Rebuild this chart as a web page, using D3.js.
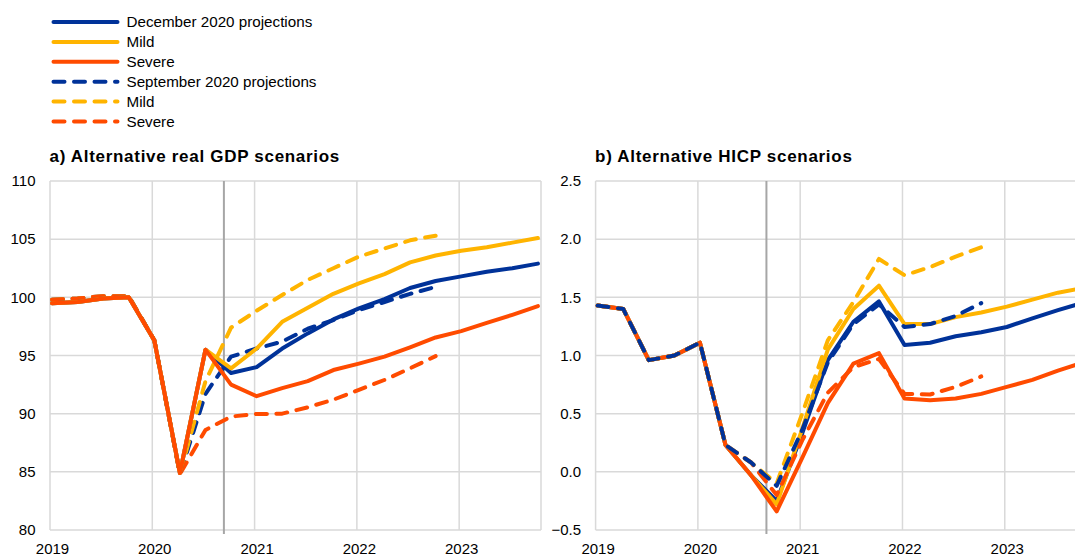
<!DOCTYPE html>
<html>
<head>
<meta charset="utf-8">
<script src="https://cdn.jsdelivr.net/npm/d3@7"></script>
<style>
  body { margin: 0; background: #fff; }
  svg { display: block; font-family: "Liberation Sans", Arial, sans-serif; }
  .grid { stroke: #d9d9d9; stroke-width: 1.5; }
  .cutoff { stroke: #a6a6a6; stroke-width: 2; }
  .tick_label { font-size: 15px; fill: #000; }
  .legend_label { font-size: 15.2px; fill: #000; }
  .panel_title { font-size: 17px; font-weight: bold; fill: #000; letter-spacing: 0.7px; }
</style>
</head>
<body>
<svg width="1075" height="556"></svg>
<script>
/** Chart data **/

// quarterly observations, December vintage runs to 2023Q4, September to 2022Q4
var quarters = ["2019Q1", "2019Q2", "2019Q3", "2019Q4", "2020Q1", "2020Q2", "2020Q3", "2020Q4",
                "2021Q1", "2021Q2", "2021Q3", "2021Q4", "2022Q1", "2022Q2", "2022Q3", "2022Q4",
                "2023Q1", "2023Q2", "2023Q3", "2023Q4"];
var year_ticks = [2019, 2020, 2021, 2022, 2023];

var gdp_ticks = [80, 85, 90, 95, 100, 105, 110];
var hicp_ticks = [-0.5, 0.0, 0.5, 1.0, 1.5, 2.0, 2.5];

// a) real GDP, index
var gdp_dec_base   = [99.5, 99.6, 99.9, 100.0, 96.3, 84.9, 95.5, 93.5, 94.0, 95.6, 96.9, 98.1, 99.05, 99.85, 100.8, 101.4, 101.8, 102.2, 102.5, 102.9];
var gdp_dec_mild   = [99.5, 99.6, 99.9, 100.0, 96.3, 84.9, 95.5, 93.9, 95.6, 97.9, 99.1, 100.3, 101.2, 102.0, 103.0, 103.6, 104.0, 104.3, 104.7, 105.1];
var gdp_dec_severe = [99.5, 99.6, 99.9, 100.0, 96.3, 84.9, 95.5, 92.5, 91.5, 92.2, 92.8, 93.75, 94.3, 94.9, 95.7, 96.55, 97.1, 97.8, 98.5, 99.25];
var gdp_sep_base   = [99.8, 99.9, 100.1, 100.1, 96.3, 84.8, 91.7, 94.9, 95.6, 96.2, 97.3, 98.05, 98.9, 99.6, 100.3, 100.9];
var gdp_sep_mild   = [99.8, 99.9, 100.1, 100.1, 96.3, 84.8, 92.8, 97.4, 98.85, 100.2, 101.5, 102.5, 103.5, 104.2, 104.9, 105.3];
var gdp_sep_severe = [99.8, 99.9, 100.1, 100.1, 96.3, 84.8, 88.6, 89.75, 89.97, 90.0, 90.55, 91.2, 92.05, 92.9, 93.9, 94.95];

// b) HICP, annual % change
var hicp_dec_base   = [1.43, 1.40, 0.96, 1.00, 1.11, 0.23, -0.03, -0.25, 0.33, 0.96, 1.29, 1.465, 1.09, 1.11, 1.165, 1.20, 1.245, 1.32, 1.39, 1.455];
var hicp_dec_mild   = [1.43, 1.40, 0.96, 1.00, 1.11, 0.23, -0.03, -0.28, 0.37, 1.05, 1.40, 1.60, 1.27, 1.27, 1.33, 1.37, 1.42, 1.48, 1.54, 1.58];
var hicp_dec_severe = [1.43, 1.40, 0.96, 1.00, 1.11, 0.23, -0.03, -0.34, 0.12, 0.59, 0.93, 1.02, 0.63, 0.615, 0.63, 0.67, 0.73, 0.79, 0.87, 0.94];
var hicp_sep_base   = [1.43, 1.40, 0.96, 1.00, 1.11, 0.23, 0.08, -0.12, 0.36, 0.94, 1.27, 1.44, 1.245, 1.27, 1.34, 1.45];
var hicp_sep_mild   = [1.43, 1.40, 0.96, 1.00, 1.11, 0.23, 0.08, -0.10, 0.50, 1.13, 1.46, 1.83, 1.69, 1.76, 1.85, 1.93];
var hicp_sep_severe = [1.43, 1.40, 0.96, 1.00, 1.11, 0.23, 0.08, -0.20, 0.27, 0.68, 0.90, 0.97, 0.67, 0.665, 0.73, 0.82];

var legend_labels = ["December 2020 projections", "Mild", "Severe",
                     "September 2020 projections", "Mild", "Severe"];

/** Styles **/
var blue = "#003299", yellow = "#ffb400", orange = "#ff4b00";
var line_width = 4;
var dash = "11,9.5";

/** 
	Set up the SVG 
**/
function setup_svg(){
	svg = d3.select("svg");
	width = +svg.attr("width");
	height = +svg.attr("height");
}

/** 
	Turns "2019Q3" into a fractional year; points sit a little after the quarter start 
**/
function quarter_to_year(q){
	return +q.slice(0, 4) + (+q.slice(5) - 1) / 4 + 0.02;
}

/** 
	Legend in the top left corner 
**/
function draw_legend(){
	var items = [
		{label: legend_labels[0], color: blue,   dashed: false},
		{label: legend_labels[1], color: yellow, dashed: false},
		{label: legend_labels[2], color: orange, dashed: false},
		{label: legend_labels[3], color: blue,   dashed: true},
		{label: legend_labels[4], color: yellow, dashed: true},
		{label: legend_labels[5], color: orange, dashed: true}
	];

	var rows = svg.append("g").attr("class", "legend")
		.selectAll("g")
		.data(items)
		.enter()
		.append("g")
			.attr("transform", (d, i) => "translate(0," + (22 + i * 19.9) + ")");

	rows.append("line")
		.attr("x1", 53.5)
		.attr("x2", 117.5)
		.attr("stroke", (d) => d.color)
		.attr("stroke-width", line_width)
		.attr("stroke-linecap", "round")
		.attr("stroke-dasharray", (d) => d.dashed ? dash : null);

	rows.append("text")
		.attr("class", "legend_label")
		.attr("x", 126.5)
		.attr("dy", "0.35em")
		.text((d) => d.label);
}

/** 
	Draws one panel: gridlines, tick labels, cut-off line, title and the six lines 
**/
function draw_panel(p){
	var g = svg.append("g");

	var xScale = d3.scaleLinear()
		.domain([2019, 2023.8])
		.range([p.left, p.left + 491]);

	var yScale = d3.scaleLinear()
		.domain(d3.extent(p.ticks))
		.range([530, 181]);

	// horizontal gridlines
	g.selectAll("line.hgrid")
		.data(p.ticks)
		.enter()
		.append("line")
			.attr("class", "grid")
			.attr("x1", xScale.range()[0])
			.attr("x2", xScale.range()[1])
			.attr("y1", (d) => yScale(d))
			.attr("y2", (d) => yScale(d));

	// vertical gridlines: years plus the right border
	g.selectAll("line.vgrid")
		.data(year_ticks.concat([2023.8]))
		.enter()
		.append("line")
			.attr("class", "grid")
			.attr("x1", (d) => xScale(d))
			.attr("x2", (d) => xScale(d))
			.attr("y1", yScale.range()[0])
			.attr("y2", yScale.range()[1]);

	// y tick labels
	g.selectAll("text.ylab")
		.data(p.ticks)
		.enter()
		.append("text")
			.attr("class", "tick_label")
			.attr("x", p.left - 14.5)
			.attr("y", (d) => yScale(d))
			.attr("dy", "0.35em")
			.style("text-anchor", "end")
			.text(p.format);

	// x tick labels
	g.selectAll("text.xlab")
		.data(year_ticks)
		.enter()
		.append("text")
			.attr("class", "tick_label")
			.attr("x", (d) => xScale(d) + 2.5)
			.attr("y", 554)
			.style("text-anchor", "middle")
			.text((d) => d);

	// projection cut-off
	g.append("line")
		.attr("class", "cutoff")
		.attr("x1", xScale(p.cutoff))
		.attr("x2", xScale(p.cutoff))
		.attr("y1", 181)
		.attr("y2", 534);

	// title
	g.append("text")
		.attr("class", "panel_title")
		.attr("x", p.left - 0.5)
		.attr("y", 162)
		.text(p.title);

	var line = d3.line()
		.x((d, i) => xScale(quarter_to_year(quarters[i])))
		.y((d) => yScale(d));

	g.selectAll("path.series")
		.data(p.series)
		.enter()
		.append("path")
			.attr("class", "series")
			.attr("d", (d) => line(d.values))
			.attr("fill", "none")
			.attr("stroke", (d) => d.color)
			.attr("stroke-width", line_width)
			.attr("stroke-linejoin", "round")
			.attr("stroke-linecap", "round")
			.attr("stroke-dasharray", (d) => d.dashed ? dash : null);
}

setup_svg();
draw_legend();

// left: September lines underneath, December on top
draw_panel({
	title: "a) Alternative real GDP scenarios",
	left: 50,
	ticks: gdp_ticks,
	format: (d) => d,
	cutoff: 2020.70,
	series: [
		{values: gdp_sep_base,   color: blue,   dashed: true},
		{values: gdp_sep_mild,   color: yellow, dashed: true},
		{values: gdp_sep_severe, color: orange, dashed: true},
		{values: gdp_dec_base,   color: blue,   dashed: false},
		{values: gdp_dec_mild,   color: yellow, dashed: false},
		{values: gdp_dec_severe, color: orange, dashed: false}
	]
});

// right: December lines underneath, September dashed on top
draw_panel({
	title: "b) Alternative HICP scenarios",
	left: 595.6,
	ticks: hicp_ticks,
	format: d3.format(".1f"),
	cutoff: 2020.67,
	series: [
		{values: hicp_dec_base,   color: blue,   dashed: false},
		{values: hicp_dec_mild,   color: yellow, dashed: false},
		{values: hicp_dec_severe, color: orange, dashed: false},
		{values: hicp_sep_severe, color: orange, dashed: true},
		{values: hicp_sep_mild,   color: yellow, dashed: true},
		{values: hicp_sep_base,   color: blue,   dashed: true}
	]
});
</script>
</body>
</html>
